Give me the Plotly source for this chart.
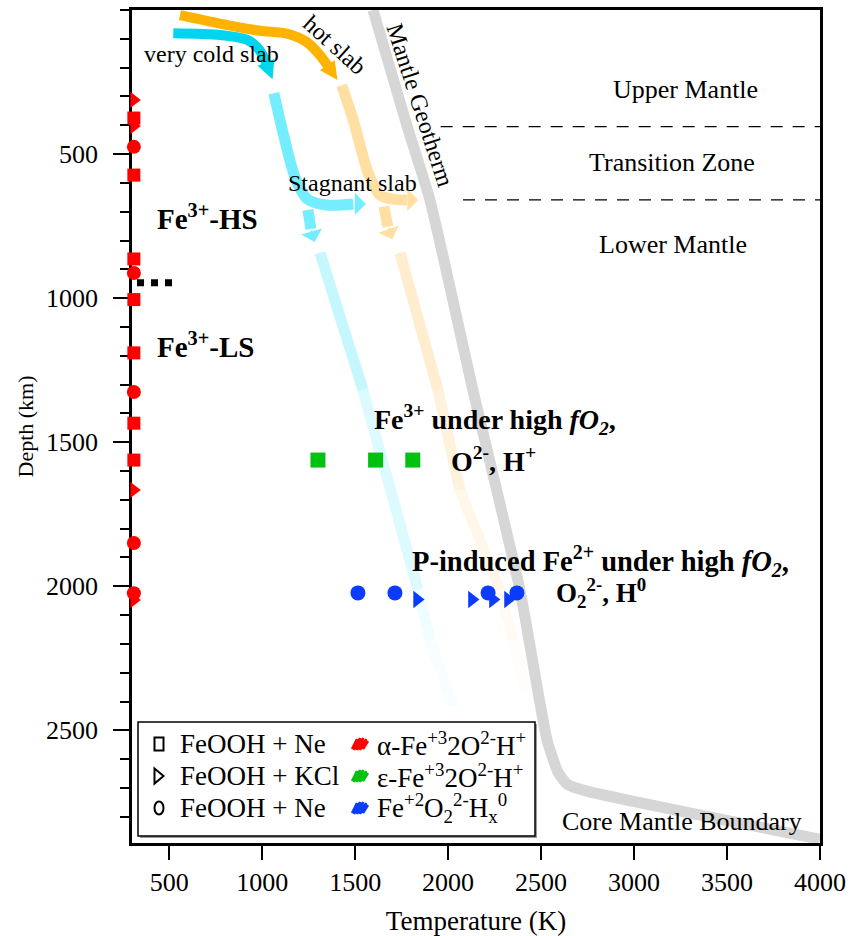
import plotly.graph_objects as go

# ---------------- data ----------------
# Mantle geotherm: temperature (K) vs depth (km)
geotherm_T = [1596, 1779, 1902, 2133, 2386, 2531, 2591, 2640, 2746, 4000]
geotherm_depth = [0, 402, 659, 1318, 2012, 2531, 2645, 2687, 2711, 2878]

# hot slab (solid arrow)
hot_T = [558, 773, 988, 1132, 1239, 1311, 1356]
hot_depth = [18, 47, 72, 82, 111, 157, 197]
hot_tip_T, hot_tip_depth = 1405, 243

# very cold slab (solid arrow)
cold_T = [522, 773, 917, 971, 1003, 1024]
cold_depth = [81, 87, 103, 128, 157, 188]
cold_tip_T, cold_tip_depth = 1056, 240

# faded (stagnant) cold slab path
cold_stag_T = [1063, 1113, 1176, 1239, 1347, 1490]
cold_stag_depth = [289, 428, 579, 654, 677, 673]
cold_stag_tip_T, cold_stag_tip_depth = 1558, 673
cold_down_T = [1246, 1262]
cold_down_depth = [694, 760]
cold_down_tip_T, cold_down_tip_depth = 1282, 805
cold_tail_T = [1311, 1542, 1838, 1902, 2026]
cold_tail_depth = [843, 1318, 2012, 2185, 2416]

# faded (stagnant) hot slab path
hot_stag_T = [1428, 1490, 1571, 1634, 1706, 1778]
hot_stag_depth = [261, 382, 567, 642, 657, 659]
hot_stag_tip_T, hot_stag_tip_depth = 1840, 659
hot_down_T = [1655, 1676]
hot_down_depth = [682, 752]
hot_down_tip_T, hot_down_tip_depth = 1700, 796
hot_tail_T = [1741, 1945, 2063, 2278, 2349, 2420]
hot_tail_depth = [843, 1318, 1665, 2012, 2185, 2360]

# mantle discontinuities
d410_T, d410_depth = [1960, 4000], [405, 405]
d660_T, d660_depth = [2080, 4000], [659, 659]

# alpha-FeOOH (red) at ambient-temperature compression
red_T = 310
red_sq_depth = [375, 573, 864, 1005, 1190, 1434, 1562]
red_tri_depth = [312, 403, 1666, 2048]
red_circ_depth = [475, 913, 1326, 1850, 2024]

# spin transition (black dashed)
spin_T = [327, 520]
spin_depth = [947, 947]

# epsilon-FeOOH (green)
green_sq_T = [1300, 1610, 1810]
green_sq_depth = [1562, 1562, 1562]

# Fe2+ O2 2- Hx (blue)
blue_circ_T = [1515, 1714, 2215, 2370]
blue_circ_depth = [2023, 2023, 2023, 2023]
blue_tri_T = [1833, 2128, 2241, 2322]
blue_tri_depth = [2046, 2046, 2046, 2046]

# ---------------- layout geometry ----------------
W_FIG, H_FIG = 856, 936
M_L, M_R, M_T, M_B = 132, 36, 10, 93
PW = W_FIG - M_L - M_R
PH = H_FIG - M_T - M_B


def fx(px):
    return (px - M_L) / PW


def fy(py):
    return (H_FIG - M_B - py) / PH


SERIF = "Liberation Serif, Times New Roman, serif"

CYAN = "#00D4EE"
ORANGE = "#FFB300"
CYAN_FADED = "#74EEFF"
ORANGE_FADED = "#FFDFA2"
GRAY = "#D6D6D6"

fig = go.Figure()
ann = []


def line(xs, ys, color, width, shape="spline", dash=None, smoothing=0.8):
    fig.add_trace(go.Scatter(
        x=xs, y=ys, mode="lines", showlegend=False, hoverinfo="skip",
        line=dict(color=color, width=width, shape=shape, dash=dash,
                  smoothing=smoothing if shape == "spline" else None),
        cliponaxis=False))


def arrowhead(bx, by, tx, ty, color, head, scale):
    ann.append(dict(x=tx, y=ty, ax=bx, ay=by, xref="x", yref="y", axref="x", ayref="y",
                    text="", showarrow=True, arrowhead=head, arrowwidth=2,
                    arrowsize=scale / 2.0, arrowcolor=color))


def faded(xs, ys, rgb, alphas, width):
    for i in range(len(xs) - 1):
        fig.add_trace(go.Scatter(
            x=[xs[i], xs[i + 1]], y=[ys[i], ys[i + 1]], mode="lines",
            showlegend=False, hoverinfo="skip",
            line=dict(color="rgba(%d,%d,%d,%.3f)" % (rgb + (alphas[i],)),
                      width=width)))


# geotherm
line(geotherm_T, geotherm_depth, GRAY, 11, smoothing=0.5)

# faded tails
faded(cold_tail_T, cold_tail_depth, (120, 236, 255), [0.42, 0.26, 0.12, 0.05], 11)
faded(hot_tail_T, hot_tail_depth, (255, 214, 150), [0.45, 0.32, 0.2, 0.1, 0.04], 11)

# stagnant / faded slab arrows
line(cold_stag_T, cold_stag_depth, CYAN_FADED, 11)
arrowhead(cold_stag_T[-1], cold_stag_depth[-1], cold_stag_tip_T, cold_stag_tip_depth, CYAN_FADED, 1, 3.7)
line(cold_down_T, cold_down_depth, CYAN_FADED, 11, shape="linear")
arrowhead(cold_down_T[-1], cold_down_depth[-1], cold_down_tip_T, cold_down_tip_depth, CYAN_FADED, 1, 3.6)

line(hot_stag_T, hot_stag_depth, ORANGE_FADED, 11)
arrowhead(hot_stag_T[-1], hot_stag_depth[-1], hot_stag_tip_T, hot_stag_tip_depth, ORANGE_FADED, 1, 3.7)
line(hot_down_T, hot_down_depth, ORANGE_FADED, 11, shape="linear")
arrowhead(hot_down_T[-1], hot_down_depth[-1], hot_down_tip_T, hot_down_tip_depth, ORANGE_FADED, 1, 3.6)

# solid slab arrows
line(cold_T, cold_depth, CYAN, 10)
arrowhead(cold_T[-1], cold_depth[-1], cold_tip_T, cold_tip_depth, CYAN, 2, 3.6)
line(hot_T, hot_depth, ORANGE, 10)
arrowhead(hot_T[-1], hot_depth[-1], hot_tip_T, hot_tip_depth, ORANGE, 2, 3.6)

# discontinuities
line(d410_T, d410_depth, "black", 1.2, shape="linear", dash="12px,10px")
line(d660_T, d660_depth, "black", 1.2, shape="linear", dash="12px,10px")

# spin transition
line(spin_T, spin_depth, "black", 7, shape="linear", dash="dot")


# markers
def markers(xs, ys, symbol, color, size):
    fig.add_trace(go.Scatter(
        x=xs, y=ys, mode="markers", showlegend=False, cliponaxis=False,
        marker=dict(symbol=symbol, size=size, color=color, line=dict(width=0))))


markers([red_T] * len(red_sq_depth), red_sq_depth, "square", "#FF0000", 13)
markers([red_T] * len(red_tri_depth), red_tri_depth, "triangle-right", "#FF0000", 14)
markers([red_T] * len(red_circ_depth), red_circ_depth, "circle", "#FF0000", 14)
markers(green_sq_T, green_sq_depth, "square", "#00C010", 15)
markers(blue_tri_T, blue_tri_depth, "triangle-right", "#0A3CFF", 15)
markers(blue_circ_T, blue_circ_depth, "circle", "#0A3CFF", 15)


# ---------------- annotations ----------------
def text(x, y, s, size, xanchor="center", angle=0, bold=False, yanchor="middle"):
    if bold:
        s = "<b>" + s + "</b>"
    ann.append(dict(x=x, y=y, xref="x", yref="y", text=s, showarrow=False,
                    xanchor=xanchor, yanchor=yanchor, textangle=angle,
                    font=dict(family=SERIF, size=size, color="black")))


text(730, 153, "very cold slab", 24)
text(1391, 122, "hot slab", 24, angle=42)
text(1849, 330, "Mantle Geotherm", 24, angle=72)
text(1488, 601, "Stagnant slab", 24)
text(3278, 275, "Upper Mantle", 26)
text(3203, 528, "Transition Zone", 26)
text(3209, 815, "Lower Mantle", 26)
text(3257, 2815, "Core Mantle Boundary", 26)
text(424, 719, "Fe<sup>3+</sup>-HS", 29, xanchor="left", bold=True)
text(424, 1163, "Fe<sup>3+</sup>-LS", 29, xanchor="left", bold=True)
text(1590, 1422, "Fe<sup>3+</sup> under high <i>fO<sub>2</sub></i>,", 28, xanchor="left", bold=True)
text(2004, 1561, "O<sup>2-</sup>, H<sup>+</sup>", 28, xanchor="left", bold=True)
text(1795, 1914, "P-induced Fe<sup>2+</sup> under high <i>fO<sub>2</sub></i>,", 28.5, xanchor="left", bold=True)
text(2569, 2025, "O<sub>2</sub><sup>2-</sup>, H<sup>0</sup>", 27, xanchor="left", bold=True)

# ---------------- hand-drawn legend box ----------------
shapes = []
LB_X0, LB_X1, LB_Y0, LB_Y1 = 138, 535, 722, 836
shapes.append(dict(type="rect", xref="paper", yref="paper",
                   x0=fx(LB_X0 + 2), x1=fx(LB_X1 + 2), y0=fy(LB_Y1 + 2), y1=fy(LB_Y0 + 2),
                   line=dict(width=0), fillcolor="#9a9a9a", layer="above"))
shapes.append(dict(type="rect", xref="paper", yref="paper",
                   x0=fx(LB_X0), x1=fx(LB_X1), y0=fy(LB_Y1), y1=fy(LB_Y0),
                   line=dict(width=1.5, color="black"), fillcolor="white", layer="above"))

ROWS = [744, 776, 808]
SYM_X = 159
col1_labels = ["FeOOH + Ne", "FeOOH + KCl", "FeOOH + Ne"]
col2_labels = ["α-Fe<sup>+3</sup>2O<sup>2-</sup>H<sup>+</sup>",
               "ε-Fe<sup>+3</sup>2O<sup>2-</sup>H<sup>+</sup>",
               "Fe<sup>+2</sup>O<sub>2</sub><sup>2-</sup>H<sub>x</sub><sup>0</sup>"]
col2_colors = ["#FF0000", "#00C010", "#0A3CFF"]

# open square
shapes.append(dict(type="rect", xref="paper", yref="paper",
                   x0=fx(SYM_X - 4.5), x1=fx(SYM_X + 4.5),
                   y0=fy(ROWS[0] + 6.5), y1=fy(ROWS[0] - 6.5),
                   line=dict(width=2, color="black"), layer="above"))
# open triangle
cy = ROWS[1]
tri = "M%f,%f L%f,%f L%f,%f Z" % (fx(SYM_X - 4.5), fy(cy - 7.5), fx(SYM_X + 4.5), fy(cy),
                                  fx(SYM_X - 4.5), fy(cy + 7.5))
shapes.append(dict(type="path", xref="paper", yref="paper", path=tri,
                   line=dict(width=2, color="black"), layer="above"))
# open circle
shapes.append(dict(type="circle", xref="paper", yref="paper",
                   x0=fx(SYM_X - 4.5), x1=fx(SYM_X + 4.5),
                   y0=fy(ROWS[2] + 6.5), y1=fy(ROWS[2] - 6.5),
                   line=dict(width=2, color="black"), layer="above"))

# scribbles
SCR_X = 360
zig = [(-8, 5), (-3, -5), (-6, 6), (0, -6), (-3, 6), (3, -6), (0, 6), (6, -5), (3, 5), (8, -3)]
for cyr, col in zip(ROWS, col2_colors):
    p = "M" + " L".join("%f,%f" % (fx(SCR_X + dx), fy(cyr + dy)) for dx, dy in zig)
    shapes.append(dict(type="path", xref="paper", yref="paper", path=p,
                       line=dict(width=2.5, color=col), layer="above"))

for cyr, lab in zip(ROWS, col1_labels):
    ann.append(dict(x=fx(178), y=fy(cyr), xref="paper", yref="paper", text=lab,
                    showarrow=False, xanchor="left", yanchor="middle",
                    font=dict(family=SERIF, size=27, color="black")))
for cyr, lab in zip(ROWS, col2_labels):
    ann.append(dict(x=fx(375), y=fy(cyr), xref="paper", yref="paper", text=lab,
                    showarrow=False, xanchor="left", yanchor="middle",
                    font=dict(family=SERIF, size=27, color="black")))

fig.update_layout(
    width=W_FIG, height=H_FIG,
    margin=dict(l=M_L, r=M_R, t=M_T, b=M_B, autoexpand=False),
    plot_bgcolor="white", paper_bgcolor="white",
    font=dict(family=SERIF, color="black"),
    showlegend=False,
    annotations=ann, shapes=shapes,
    xaxis=dict(range=[300, 4000], tickvals=[500, 1000, 1500, 2000, 2500, 3000, 3500, 4000],
               ticks="outside", ticklen=14, tickwidth=2, tickcolor="black",
               showline=True, linewidth=2.5, linecolor="black", mirror=True,
               showgrid=False, zeroline=False, tickfont=dict(size=26),
               title=dict(text="Temperature (K)", font=dict(size=27), standoff=16)),
    yaxis=dict(range=[2891, 0], tickvals=[500, 1000, 1500, 2000, 2500],
               ticks="outside", ticklen=16, tickwidth=2, tickcolor="black",
               minor=dict(ticks="outside", ticklen=9, tickwidth=2, tickcolor="black",
                          dtick=100, tick0=0, showgrid=False),
               showline=True, linewidth=2.5, linecolor="black", mirror=True,
               showgrid=False, zeroline=False, tickfont=dict(size=26),
               ticklabelstandoff=10,
               layer="below traces",
               title=dict(text="Depth (km)", font=dict(size=22), standoff=7)),
)

fig.write_html("out.html", config={"displayModeBar": False},
               post_script="document.body.style.margin='0px';")
